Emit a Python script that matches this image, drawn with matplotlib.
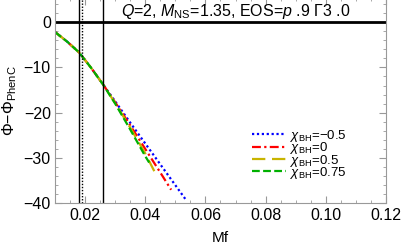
import numpy as np
import matplotlib
matplotlib.use("Agg")
import matplotlib.pyplot as pl
from matplotlib.ticker import MultipleLocator

pl.rcParams['font.family'] = ['Liberation Sans', 'DejaVu Sans']
pl.rcParams['mathtext.fontset'] = 'custom'
pl.rcParams['mathtext.rm'] = 'Liberation Sans'
pl.rcParams['mathtext.it'] = 'Liberation Sans:italic'

# shared early part of all curves (Mf, phase difference)
mf_common = [0.010, 0.014, 0.018, 0.022, 0.026]
dphi_common = [-2.2, -4.3, -6.7, -10.1, -13.8]

# spin dependent tails
mf_m05 = [0.030, 0.035, 0.040, 0.045, 0.050, 0.0536]
dphi_m05 = [-17.5, -22.2, -26.8, -31.4, -36.0, -39.3]
mf_0 = [0.030, 0.035, 0.040, 0.045, 0.0486]
dphi_0 = [-17.7, -22.8, -28.0, -33.2, -37.0]
mf_05 = [0.030, 0.035, 0.040, 0.043]
dphi_05 = [-17.9, -23.3, -29.0, -32.9]
mf_075 = [0.030, 0.035, 0.040, 0.0413]
dphi_075 = [-18.0, -23.7, -29.6, -31.0]

labels = [r'$\chi_{\rm BH}$=$-$0.5', r'$\chi_{\rm BH}$=0',
          r'$\chi_{\rm BH}$=0.5', r'$\chi_{\rm BH}$=0.75']
vlines_solid = [0.018, 0.026]
vline_dotted = 0.019

fig = pl.figure(figsize=(4.02, 2.48), dpi=100)
ax = fig.add_axes([0.1368, 0.180, 0.8234, 0.828])

series = [(mf_m05, dphi_m05, 'blue', (0, (1, 1.2))),
          (mf_0, dphi_0, 'red', (0, (4, 1.5, 1, 1.5))),
          (mf_05, dphi_05, '#c8b400', (0, (6, 3))),
          (mf_075, dphi_075, '#00b000', (0, (3.5, 1.5)))]
for (mx, dy, c, ls), lab in zip(series, labels):
    ax.plot(mf_common + mx, dphi_common + dy, color=c, ls=ls, lw=1.6, label=lab)

ax.axhline(0, color='k', lw=2)
for v in vlines_solid:
    ax.axvline(v, color='k', lw=1)
ax.axvline(vline_dotted, color='k', lw=1, ls=(0, (1, 1.2)))

ax.set_xlim(0.01, 0.12)
ax.set_ylim(-40, 5.3)
ax.xaxis.set_minor_locator(MultipleLocator(0.005))
ax.yaxis.set_minor_locator(MultipleLocator(2))
ax.set_xticks([0.02, 0.04, 0.06, 0.08, 0.10, 0.12])
ax.set_xticklabels(['0.02', '0.04', '0.06', '0.08', '0.10', '0.12'])
ax.set_yticks([0, -10, -20, -30, -40])
ax.set_yticklabels(['0', '\u221210', '\u221220', '\u221230', '\u221240'])
ax.tick_params(which='both', direction='in', top=True, right=True,
               color='#999999', labelsize=11.5, pad=3)
ax.tick_params(which='major', length=5)
ax.tick_params(which='minor', length=2.5)
for s in ax.spines.values():
    s.set_color('#999999')
    s.set_linewidth(0.8)

ax.set_xlabel('Mf', fontsize=11, labelpad=6)
ax.set_ylabel(r'$\Phi$$-$$\Phi_{\rm PhenC}$', fontsize=11.5, labelpad=3)

ax.text(0.545, 0.933, r'$Q$=2, $M_{\rm NS}$=1.35, EOS=$p$ .9 $\Gamma$3 .0',
        transform=ax.transAxes, ha='center', va='center', fontsize=11.5)

ax.legend(loc='upper left', bbox_to_anchor=(0.595, 0.367), frameon=False,
          fontsize=9.5, handlelength=2.55, handletextpad=0.3,
          labelspacing=-0.28, borderpad=0, borderaxespad=0)

fig.savefig('out.png', dpi=100)
